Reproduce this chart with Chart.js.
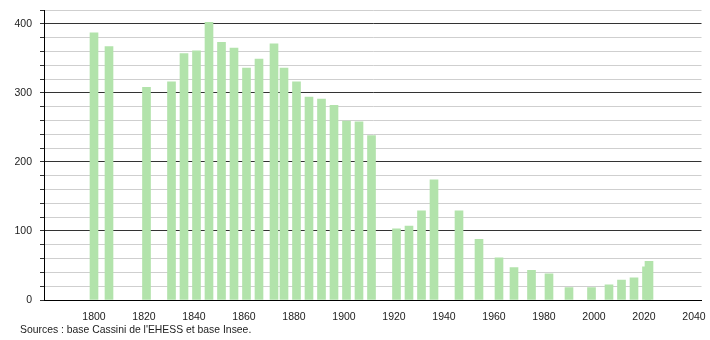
<!DOCTYPE html>
<html>
<head>
<meta charset="utf-8">
<script src="https://cdn.jsdelivr.net/npm/chart.js@4"></script>
<style>
  html, body { margin: 0; padding: 0; background: #fff; }
  #wrap { position: relative; width: 710px; height: 340px; }
  #sources {
    position: absolute; left: 20px; top: 324px;
    font-family: "Liberation Sans", Arial, sans-serif; font-size: 10.4px; color: #222;
  }
</style>
</head>
<body>
<div id="wrap">
  <canvas id="popChart" width="710" height="340"></canvas>
  <div id="sources">Sources : base Cassini de l'EHESS et base Insee.</div>
</div>
<script>
// census years and population
const years = [1800, 1806, 1821, 1831, 1836, 1841, 1846, 1851, 1856, 1861, 1866, 1872, 1876,
  1881, 1886, 1891, 1896, 1901, 1906, 1911, 1921, 1926, 1931, 1936, 1946, 1954, 1962, 1968,
  1975, 1982, 1990, 1999, 2006, 2011, 2016, 2021, 2022];
const population = [387, 367, 308, 316, 357, 361, 402, 373, 365, 336, 349, 371, 336,
  316, 294, 291, 282, 259, 258, 238, 103, 107, 129, 174, 129, 88, 61, 47,
  43, 38, 18, 18, 22, 29, 32, 48, 56];
const xTickLabels = [1800, 1820, 1840, 1860, 1880, 1900, 1920, 1940, 1960, 1980, 2000, 2020, 2040];
const yTickLabels = [0, 100, 200, 300, 400];

const font = { family: "'Liberation Sans', Arial, sans-serif", size: 10.5 };

const ctx = document.getElementById("popChart").getContext("2d");
new Chart(ctx, {
  type: "bar",
  data: {
    datasets: [
      {
        data: years.map((y, i) => ({ x: y, y: population[i] })),
        backgroundColor: "#b2e3ab",
        borderWidth: 0,
        barThickness: 8,
      },
    ],
  },
  options: {
    responsive: false,
    animation: false,
    layout: { padding: { top: 10, right: 8.5, left: 0, bottom: 0 } },
    plugins: { legend: { display: false }, tooltip: { enabled: false } },
    scales: {
      x: {
        type: "linear",
        min: 1780,
        max: 2043,
        offset: false,
        grid: { display: false, offset: false },
        border: { display: true, color: "#000", width: 1 },
        ticks: {
          stepSize: 20,
          includeBounds: false,
          autoSkip: false,
          maxRotation: 0,
          padding: 3,
          color: "#222",
          font: font,
          callback: (v) => (xTickLabels.includes(v) ? String(v) : ""),
        },
        afterFit: (s) => {
          s.height = 40;
          s.paddingLeft = 0;
          s.paddingRight = 0;
        },
      },
      y: {
        min: 0,
        max: 420,
        grid: {
          color: (c) => (c.tick && c.tick.value % 100 === 0 ? "#333" : "#cfcfcf"),
          tickColor: "#333",
          tickLength: 4,
          drawTicks: true,
        },
        border: { display: true, color: "#000", width: 1 },
        ticks: {
          stepSize: 20,
          autoSkip: false,
          padding: 8,
          color: "#222",
          font: font,
          callback: (v) => (yTickLabels.includes(v) ? String(v) : ""),
        },
        afterFit: (s) => {
          s.width = 44;
          s.paddingTop = 0;
          s.paddingBottom = 0;
        },
      },
    },
  },
});
</script>
</body>
</html>
